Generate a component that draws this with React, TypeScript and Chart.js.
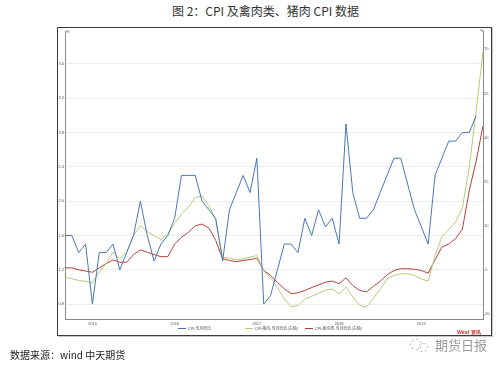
import React, { useEffect, useRef } from "react";
import { Chart, registerables } from "chart.js";

Chart.register(...registerables);

const months = [
  "2014-09", "2014-10", "2014-11", "2014-12",
  "2015-01", "2015-02", "2015-03", "2015-04", "2015-05", "2015-06", "2015-07", "2015-08", "2015-09", "2015-10", "2015-11", "2015-12",
  "2016-01", "2016-02", "2016-03", "2016-04", "2016-05", "2016-06", "2016-07", "2016-08", "2016-09", "2016-10", "2016-11", "2016-12",
  "2017-01", "2017-02", "2017-03", "2017-04", "2017-05", "2017-06", "2017-07", "2017-08", "2017-09", "2017-10", "2017-11", "2017-12",
  "2018-01", "2018-02", "2018-03", "2018-04", "2018-05", "2018-06", "2018-07", "2018-08", "2018-09", "2018-10", "2018-11", "2018-12",
  "2019-01", "2019-02", "2019-03", "2019-04", "2019-05", "2019-06", "2019-07", "2019-08", "2019-09", "2019-10",
];

// CPI 当月同比 (left axis, %)
const cpi = [
  1.6, 1.6, 1.4, 1.5,
  0.8, 1.4, 1.4, 1.5, 1.2, 1.4, 1.6, 2.0, 1.6, 1.3, 1.5, 1.6,
  1.8, 2.3, 2.3, 2.3, 2.0, 1.9, 1.8, 1.3, 1.9, 2.1, 2.3, 2.1,
  2.5, 0.8, 0.9, 1.2, 1.5, 1.5, 1.4, 1.8, 1.6, 1.9, 1.7, 1.8,
  1.5, 2.9, 2.1, 1.8, 1.8, 1.9, 2.1, 2.3, 2.5, 2.5, 2.2, 1.9,
  1.7, 1.5, 2.3, 2.5, 2.7, 2.7, 2.8, 2.8, 3.0, null,
];

// 猪肉 当月同比 (right axis, %)
const pork = [
  -7.5, -8.0, -8.6, -8.9,
  -9.4, -5.8, -2.9, 1.0, -1.2, 1.0, 6.7, 10.0, 8.0, 6.7, 5.3, 7.2,
  10.8, 14.0, 16.3, 19.6, 20.2, 16.8, 11.7, -0.7, -1.0, -1.6, -1.2, -0.7,
  -0.1, -5.4, -7.5, -11.1, -14.8, -17.6, -17.1, -14.9, -14.0, -12.9, -11.9, -11.5,
  -13.1, -10.8, -14.2, -17.1, -17.6, -14.6, -11.6, -8.1, -6.9, -6.3, -6.3, -6.9,
  -8.1, -8.8, -0.2, 6.3, 8.6, 11.3, 16.2, 30.0, 49.0, 69.3,
];

// 禽肉类 当月同比 (right axis, %)
const poultry = [
  -4.3, -4.3, -5.0, -5.4,
  -5.8, -4.3, -2.9, -1.6, -2.4, -2.4, 0.2, 1.8, 1.0, 0.2, -0.5, -0.5,
  3.8, 6.1, 7.8, 10.0, 10.6, 9.2, 5.0, -1.2, -1.8, -2.2, -1.8, -1.5,
  -1.0, -5.2, -6.9, -9.2, -11.4, -13.1, -12.8, -12.0, -11.0, -10.1, -9.2, -8.8,
  -9.7, -7.7, -10.3, -12.0, -12.5, -10.6, -8.9, -6.7, -5.2, -4.6, -4.6, -4.8,
  -5.2, -6.1, -1.6, 2.7, 3.8, 5.6, 8.9, 22.0, 32.0, 44.0,
];

const leftTicks = [0.8, 1.2, 1.6, 2.0, 2.4, 2.8, 3.2, 3.6];
const rightTicks = [-20, -5, 10, 25, 40, 55, 70];

const seriesNames = ["CPI:当月同比", "CPI:猪肉:当月同比(右轴)", "CPI:禽肉类:当月同比(右轴)"];
const seriesColors = ["#4a78b6", "#b3cc7c", "#b8403c"];

const tickFont = { size: 4, family: "Arial, Liberation Sans, sans-serif" };

export default function App() {
  const canvasRef = useRef<HTMLCanvasElement | null>(null);

  useEffect(() => {
    if (!canvasRef.current) return;
    const chart = new Chart(canvasRef.current, {
      type: "line",
      data: {
        labels: months,
        datasets: [
          { label: seriesNames[0], data: cpi, yAxisID: "y", borderColor: seriesColors[0], borderWidth: 1, pointRadius: 0, tension: 0, spanGaps: false },
          { label: seriesNames[1], data: pork, yAxisID: "y1", borderColor: seriesColors[1], borderWidth: 1, pointRadius: 0, tension: 0 },
          { label: seriesNames[2], data: poultry, yAxisID: "y1", borderColor: seriesColors[2], borderWidth: 1, pointRadius: 0, tension: 0 },
        ],
      },
      options: {
        animation: false,
        responsive: false,
        maintainAspectRatio: false,
        layout: { padding: { top: 2, left: 0, right: 0, bottom: 0 } },
        plugins: { legend: { display: false }, tooltip: { enabled: false } },
        scales: {
          x: {
            type: "category",
            offset: false,
            grid: { drawOnChartArea: false, drawTicks: false },
            border: { color: "#8a8a8a", width: 1 },
            ticks: {
              autoSkip: false,
              maxRotation: 0,
              minRotation: 0,
              padding: 2,
              font: tickFont,
              color: "#555",
              callback: (_v: any, i: number) => (months[i].endsWith("-01") ? months[i].slice(0, 4) : ""),
            },
            afterFit: (s: any) => { s.height = 16; },
          },
          y: {
            position: "left",
            min: 0.626,
            max: 3.979,
            afterBuildTicks: (s: any) => { s.ticks = leftTicks.map((v) => ({ value: v })); },
            grid: { color: "#ededed", drawTicks: false, lineWidth: 1 },
            border: { color: "#8a8a8a", width: 1 },
            ticks: { font: tickFont, color: "#555", padding: 1, callback: (v: any) => Number(v).toFixed(1) },
            afterFit: (s: any) => { s.width = 7; },
          },
          y1: {
            position: "right",
            min: -21.7,
            max: 76.1,
            afterBuildTicks: (s: any) => { s.ticks = rightTicks.map((v) => ({ value: v })); },
            grid: { drawOnChartArea: false, drawTicks: false },
            border: { color: "#8a8a8a", width: 1 },
            ticks: { font: tickFont, color: "#555", padding: 1, callback: (v: any) => String(v) },
            afterFit: (s: any) => { s.width = 8; },
          },
        },
      },
    });
    return () => chart.destroy();
  }, []);

  const legendPos = [
    { marker: 178, text: 188 },
    { marker: 245, text: 255 },
    { marker: 305, text: 315 },
  ];

  return (
    <div style={{ position: "absolute", left: 0, top: 0, width: 500, height: 368, background: "#fff", overflow: "hidden", fontFamily: "'Noto Sans CJK SC', sans-serif" }}>
      <div style={{ position: "absolute", left: 172, top: 3, fontSize: 12, color: "#333", whiteSpace: "nowrap", lineHeight: "16px" }}>
        图 2：CPI 及禽肉类、猪肉 CPI 数据
      </div>
      <div style={{ position: "absolute", left: 57, top: 27, width: 433, height: 307, border: "1px solid #3a3a3a", boxShadow: "1px 1px 0 #c8c8c8" }}>
        <canvas ref={canvasRef} width={433} height={307} style={{ display: "block", width: 433, height: 307 }} />
      </div>
      <span style={{ position: "absolute", left: 66, top: 29, fontSize: 4, color: "#555", lineHeight: "5px" }}>%</span>
      <span style={{ position: "absolute", left: 480, top: 28, fontSize: 4, color: "#555", lineHeight: "5px" }}>%</span>
      {seriesNames.map((name, i) => (
        <React.Fragment key={name}>
          <span style={{ position: "absolute", left: legendPos[i].marker, top: 328, width: 8, height: 1, background: seriesColors[i] }} />
          <span style={{ position: "absolute", left: legendPos[i].text, top: 325, fontSize: 4, color: "#555", whiteSpace: "nowrap", lineHeight: "6px" }}>{name}</span>
        </React.Fragment>
      ))}
      <span style={{ position: "absolute", left: 457, top: 330, fontSize: 5, color: "#d42a2a", fontWeight: "bold", lineHeight: "5px", fontFamily: "Arial, sans-serif" }}>Wind 资讯</span>
      <span style={{ position: "absolute", left: 410, top: 339, width: 10, height: 9, border: "1px dashed #c4c4c4", borderRadius: "50%" }} />
      <span style={{ position: "absolute", left: 418, top: 343, width: 8, height: 7, border: "1px dashed #c4c4c4", borderRadius: "50%" }} />
      <div style={{ position: "absolute", left: 435, top: 337, fontSize: 13, color: "#9a9a9a", whiteSpace: "nowrap", lineHeight: "16px" }}>期货日报</div>
      <div style={{ position: "absolute", left: 10, top: 348, fontSize: 10, color: "#222", whiteSpace: "nowrap", lineHeight: "14px" }}>数据来源：wind 中天期货</div>
    </div>
  );
}
